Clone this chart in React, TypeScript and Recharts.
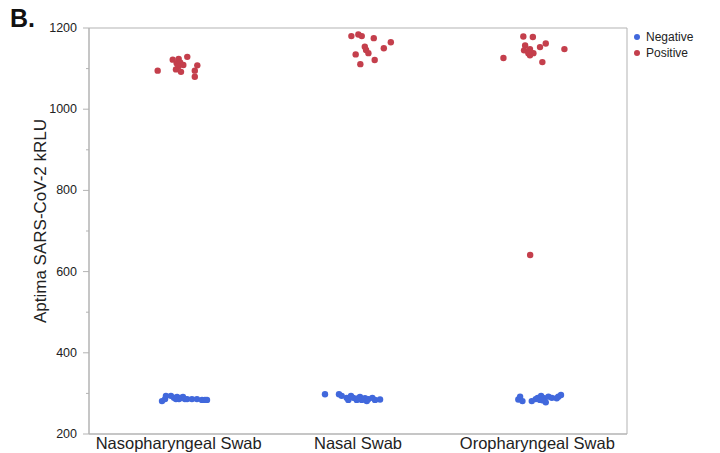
import { ScatterChart, Scatter, XAxis, YAxis, ReferenceArea, Legend } from 'recharts';

const categories = ['Nasopharyngeal Swab', 'Nasal Swab', 'Oropharyngeal Swab'];
const yTicks = [200, 300, 400, 500, 600, 700, 800, 900, 1000, 1100, 1200];

// [jitter from category centre, kRLU]
const nasoPositive = [
  [-0.117, 1095], [-0.033, 1122], [0.0, 1124], [0.048, 1129], [-0.011, 1113], [0.008, 1115], [0.026, 1109],
  [-0.015, 1098], [0.013, 1092], [0.104, 1108], [0.09, 1095], [0.09, 1080], [-0.002, 1105],
];
const nasalPositive = [
  [-0.037, 1180], [0.002, 1184], [0.021, 1180], [0.088, 1175], [0.183, 1165], [0.144, 1150], [0.038, 1154],
  [0.045, 1146], [0.058, 1138], [-0.013, 1135], [0.093, 1121], [0.013, 1111],
];
const oroPositive = [
  [-0.078, 1179], [-0.025, 1178], [0.047, 1162], [0.015, 1153], [-0.068, 1157], [-0.074, 1145], [-0.041, 1148],
  [0.151, 1148], [-0.189, 1126], [-0.022, 1138], [-0.041, 1133], [0.028, 1116], [-0.05, 1138], [-0.04, 641],
];
const nasoNegative = [
  [-0.093, 281], [-0.076, 286], [-0.071, 294], [-0.043, 294], [-0.026, 289], [-0.009, 291], [0.013, 289],
  [0.024, 291], [0.047, 286], [0.074, 286], [0.102, 286], [0.13, 284], [0.147, 284], [0.158, 284],
  [-0.015, 286], [0.002, 286], [0.035, 286],
];
const nasalNegative = [
  [-0.184, 298], [-0.106, 298], [-0.091, 294], [-0.063, 289], [-0.054, 284], [-0.039, 294], [-0.026, 289],
  [-0.007, 284], [0.011, 291], [0.021, 284], [0.039, 288], [0.049, 281], [0.058, 286], [0.08, 289],
  [0.095, 284], [0.123, 285], [0.002, 288],
];
const oroNegative = [
  [-0.106, 285], [-0.096, 292], [-0.083, 281], [-0.031, 281], [-0.009, 286], [0.002, 289], [0.021, 294],
  [0.039, 288], [0.047, 278], [0.062, 292], [0.081, 289], [0.108, 288], [0.117, 292], [0.132, 296],
  [0.015, 284], [0.028, 283],
];

const NEG = '#4168dc';
const POS = '#c43f4c';
const AXIS = '#b3b3b3';
const FONT = "'Liberation Sans', Arial, sans-serif";

const toPoints = (groups) =>
  groups.flatMap((g, i) => g.map(([j, v]) => ({ x: i + 0.5 + j, y: v })));

const negativeData = toPoints([nasoNegative, nasalNegative, oroNegative]);
const positiveData = toPoints([nasoPositive, nasalPositive, oroPositive]);

const dot = (color) => (props) => <circle cx={props.cx} cy={props.cy} r={3.2} fill={color} />;

const YTick = ({ x, y, payload }) => {
  const major = payload.value % 200 === 0;
  return (
    <g>
      <line x1={x - (major ? 6 : 3)} x2={x} y1={y} y2={y} stroke={AXIS} />
      {major && (
        <text x={x - 12} y={y} dy={4} textAnchor="end" fontSize={12.5} fill="#222" fontFamily={FONT}>
          {payload.value}
        </text>
      )}
    </g>
  );
};

const XTick = ({ x, y, payload }) => (
  <text x={x} y={y} dy={15} textAnchor="middle" fontSize={16.5} fill="#222" fontFamily={FONT}>
    {categories[Math.round(payload.value - 0.5)]}
  </text>
);

const LegendBox = () => (
  <div style={{ fontFamily: FONT, fontSize: 12, color: '#222', lineHeight: '16px' }}>
    {[['Negative', NEG], ['Positive', POS]].map(([name, c]) => (
      <div key={name} style={{ display: 'flex', alignItems: 'center' }}>
        <span style={{ width: 6, height: 6, borderRadius: 3, background: c, marginRight: 6 }} />
        {name}
      </div>
    ))}
  </div>
);

export default function App() {
  return (
    <div style={{ position: 'absolute', left: 0, top: 0, width: 720, height: 453, background: '#fff' }}>
      <div style={{ position: 'absolute', left: 10, top: 4, fontFamily: FONT, fontWeight: 'bold', fontSize: 25, color: '#111' }}>
        B.
      </div>
      <ScatterChart width={720} height={453} margin={{ top: 28, right: 93, bottom: 0, left: 0 }}>
        <XAxis
          type="number"
          dataKey="x"
          domain={[0, 3]}
          ticks={[0.5, 1.5, 2.5]}
          tick={<XTick />}
          tickLine={false}
          tickSize={0}
          tickMargin={0}
          height={19}
          stroke={AXIS}
        />
        <YAxis
          type="number"
          dataKey="y"
          domain={[200, 1200]}
          ticks={yTicks}
          interval={0}
          tick={<YTick />}
          tickLine={false}
          tickSize={0}
          tickMargin={0}
          width={89}
          stroke={AXIS}
          label={{
            content: ({ viewBox }) => (
              <text
                x={40}
                y={viewBox.y + viewBox.height / 2 - 10}
                transform={`rotate(-90 40 ${viewBox.y + viewBox.height / 2 - 10})`}
                textAnchor="middle"
                dominantBaseline="central"
                fontSize={17}
                fill="#222"
                fontFamily={FONT}
              >
                Aptima SARS-CoV-2 kRLU
              </text>
            ),
          }}
        />
        <ReferenceArea x1={0} x2={3} y1={200} y2={1200} fill="none" stroke={AXIS} />
        <Legend
          layout="vertical"
          align="center"
          verticalAlign="middle"
          content={<LegendBox />}
          wrapperStyle={{ top: 29, left: 634, width: 80 }}
        />
        <Scatter name="Negative" data={negativeData} fill={NEG} shape={dot(NEG)} isAnimationActive={false} />
        <Scatter name="Positive" data={positiveData} fill={POS} shape={dot(POS)} isAnimationActive={false} />
      </ScatterChart>
    </div>
  );
}
